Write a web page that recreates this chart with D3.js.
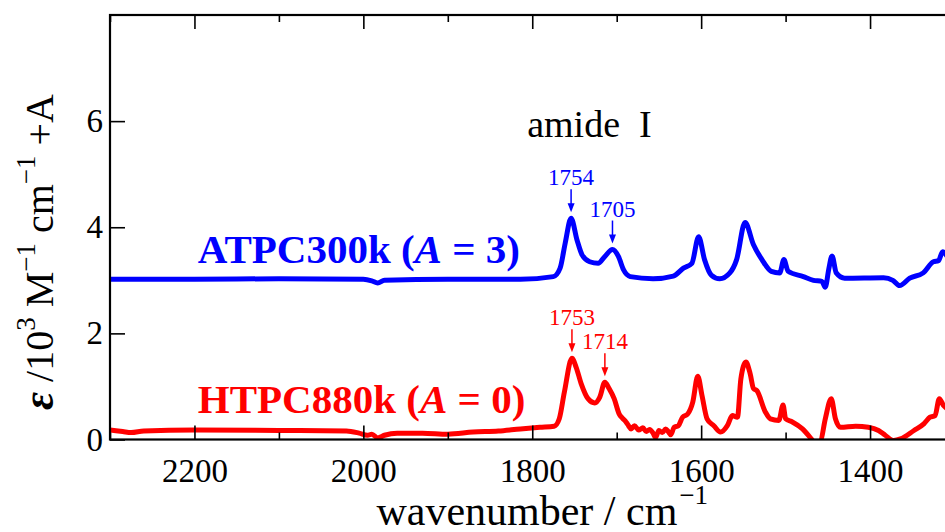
<!DOCTYPE html>
<html>
<head>
<meta charset="utf-8">
<script src="https://cdn.jsdelivr.net/npm/d3@7"></script>
<style>
  body { margin: 0; background: #fff; }
  svg { display: block; }
  text { font-family: "Liberation Serif", "Times New Roman", serif; }
</style>
</head>
<body>
<div id="chart"></div>
<script>
//Spectra (wavenumber in cm-1, epsilon in 10^3 M-1 cm-1)
var blueWn = [2300,2200,2100,2000,1990,1983,1975,1900,1814,1775,
              1767,1761,1754,1747,1741,1732,1722,1714,1705,1698,
              1692,1684,1657,1633,1621,1611,1603,1596,1588,1578,
              1566,1558,1548,1538,1528,1517,1507,1502,1497,1479,
              1467,1457,1453,1449,1445,1440,1430,1384,1373,1365,
              1353,1337,1325,1319,1314,1305,1300];
var blueEps = [0.02,0.02,0.03,0.02,-0.01,-0.05,0.00,0.02,0.02,0.07,
               0.23,0.70,1.17,0.76,0.48,0.35,0.32,0.45,0.58,0.45,
               0.20,0.07,0.03,0.08,0.23,0.32,0.82,0.39,0.10,0.03,
               0.14,0.39,1.09,0.67,0.39,0.17,0.14,0.39,0.17,0.07,
               0.00,-0.02,-0.13,0.20,0.46,0.14,0.04,0.05,0.00,-0.10,
               0.04,0.14,0.35,0.37,0.54,0.38,0.36];

var redWn = [2300,2285,2275,2260,2200,2100,2020,2005,1995,1990,
             1983,1975,1960,1930,1900,1870,1840,1814,1791,1774,
             1768,1762,1753,1748,1742,1734,1726,1720,1714,1709,
             1703,1697,1693,1689,1686,1683,1679,1674,1669,1665,
             1661,1657,1654,1650,1646,1642,1639,1636,1632,1627,
             1622,1616,1610,1604,1599,1593,1585,1577,1569,1563,
             1557,1553,1547,1542,1538,1534,1524,1518,1508,1503,
             1500,1492,1480,1469,1465,1459,1453,1446,1441,1435,
             1417,1402,1390,1382,1372,1364,1348,1336,1329,1323,
             1318,1313,1305,1300];
var redEps = [0.18,0.15,0.13,0.16,0.18,0.17,0.16,0.12,0.08,0.10,
              0.03,0.08,0.12,0.12,0.10,0.14,0.16,0.20,0.23,0.25,
              0.39,0.89,1.53,1.36,1.05,0.77,0.69,0.80,1.08,0.96,
              0.77,0.48,0.40,0.33,0.26,0.20,0.26,0.18,0.22,0.15,
              0.19,0.12,0.04,0.17,0.13,0.20,0.15,0.09,0.23,0.26,
              0.42,0.48,0.70,1.19,0.83,0.39,0.26,0.14,0.26,0.45,
              0.42,1.14,1.46,1.24,0.96,0.92,0.52,0.39,0.36,0.65,
              0.39,0.33,0.20,0.00,-0.08,-0.05,0.39,0.77,0.39,0.23,
              0.25,0.23,0.17,0.08,-0.02,0.01,0.17,0.30,0.42,0.45,
              0.77,0.64,0.55,0.50];

//Series names, offsets A and colours
var seriesName = ["ATPC300k", "HTPC880k"];
var seriesOffset = [3, 0];
var seriesColor = ["#0000ff", "#ff0000"];

//Peak annotations
var peakWn = [1754, 1705, 1753, 1714];
var peakSeries = [0, 0, 1, 1];

//Axis ticks
var xMajorTicks = [2200, 2000, 1800, 1600, 1400];
var xMinorTicks = [2300, 2100, 1900, 1700, 1500, 1300];
var yTicks = [0, 2, 4, 6];

//Canvas
var width = 945,
    height = 532;
var plot = { left: 110, top: 15, right: 954.5, bottom: 439.5 };

var svg = d3.select("#chart").append("svg")
            .attr("width", width)
            .attr("height", height);

var x = d3.scaleLinear().domain([2300, 1300]).range([plot.left, plot.right]);
var y = d3.scaleLinear().domain([0, 8]).range([plot.bottom, plot.top]);

//Clip the spectra to the frame
svg.append("clipPath").attr("id", "clip")
   .append("rect")
   .attr("x", plot.left).attr("y", plot.top)
   .attr("width", plot.right - plot.left).attr("height", plot.bottom - plot.top);

var series = [
  { wn: blueWn, eps: blueEps },
  { wn: redWn, eps: redEps }
];

var line = d3.line()
             .x(function(d) { return x(d[0]); })
             .y(function(d) { return y(d[1]); })
             .curve(d3.curveMonotoneX);

series.forEach(function(s, i) {
  var pts = s.wn.map(function(w, j) { return [w, s.eps[j] + seriesOffset[i]]; });
  pts.sort(function(a, b) { return x(a[0]) - x(b[0]); });
  s.pts = pts;
  svg.append("path")
     .attr("clip-path", "url(#clip)")
     .attr("d", line(pts))
     .attr("fill", "none")
     .attr("stroke", seriesColor[i])
     .attr("stroke-width", 5)
     .attr("stroke-linejoin", "round")
     .attr("stroke-linecap", "round");
});

//Axes: ticks point inward, mirrored on top
function styleAxis(g) {
  g.select(".domain").remove();
  g.selectAll(".tick line").attr("stroke", "#000").attr("stroke-width", 1.6);
  g.selectAll(".tick text").attr("fill", "#000").style("font-size", "33px")
   .style("font-family", "'Liberation Serif', serif");
}

svg.append("g").attr("transform", "translate(0," + plot.bottom + ")")
   .call(d3.axisBottom(x).tickValues(xMajorTicks).tickSizeInner(-14).tickSizeOuter(0).tickPadding(12).tickFormat(d3.format("d")))
   .call(styleAxis)
   .selectAll(".tick text").attr("dy", "0.85em").attr("y", 14);

svg.append("g").attr("transform", "translate(0," + plot.bottom + ")")
   .call(d3.axisBottom(x).tickValues(xMinorTicks).tickSizeInner(-7).tickSizeOuter(0).tickFormat(""))
   .call(styleAxis);

svg.append("g").attr("transform", "translate(0," + plot.top + ")")
   .call(d3.axisTop(x).tickValues(xMajorTicks).tickSizeInner(-14).tickSizeOuter(0).tickFormat(""))
   .call(styleAxis);

svg.append("g").attr("transform", "translate(0," + plot.top + ")")
   .call(d3.axisTop(x).tickValues(xMinorTicks).tickSizeInner(-7).tickSizeOuter(0).tickFormat(""))
   .call(styleAxis);

svg.append("g").attr("transform", "translate(" + plot.left + ",0)")
   .call(d3.axisLeft(y).tickValues(yTicks).tickSizeInner(-15).tickSizeOuter(0).tickPadding(7).tickFormat(d3.format("d")))
   .call(styleAxis);

//Frame
svg.append("rect")
   .attr("x", plot.left).attr("y", plot.top)
   .attr("width", plot.right - plot.left).attr("height", plot.bottom - plot.top)
   .attr("fill", "none").attr("stroke", "#000").attr("stroke-width", 2.2);

//Peak arrows and labels (tip sits just above the nearest data point)
var arrowLen = 23, gap = 6;
peakWn.forEach(function(w, k) {
  var si = peakSeries[k];
  var s = series[si];
  var j = d3.minIndex(s.wn, function(v) { return Math.abs(v - w); });
  var val = s.eps[j] + seriesOffset[si];
  var px = x(w), tip = y(val) - gap;
  var col = seriesColor[si];
  svg.append("line")
     .attr("x1", px).attr("x2", px)
     .attr("y1", tip - arrowLen).attr("y2", tip - 8)
     .attr("stroke", col).attr("stroke-width", 1.5);
  svg.append("path")
     .attr("d", "M" + (px - 3.5) + "," + (tip - 9) + "L" + (px + 3.5) + "," + (tip - 9) + "L" + px + "," + tip + "Z")
     .attr("fill", col);
  svg.append("text")
     .attr("x", px).attr("y", tip - arrowLen - 4)
     .attr("text-anchor", "middle")
     .attr("fill", col)
     .style("font-size", "23px")
     .text(String(w));
});

//Series labels
var labelWn = 2196;
var labelVal = [3.33, 0.5];
seriesName.forEach(function(name, i) {
  var t = svg.append("text")
             .attr("x", x(labelWn)).attr("y", y(labelVal[i]))
             .attr("fill", seriesColor[i])
             .style("font-size", "41px").style("font-weight", "bold");
  t.append("tspan").text(name + " (");
  t.append("tspan").style("font-style", "italic").text("A");
  t.append("tspan").text(" = " + seriesOffset[i] + ")");
});

//amide I
var amide = svg.append("text")
               .attr("x", x(1806)).attr("y", y(5.71))
               .style("font-size", "38px");
amide.append("tspan").text("amide");
amide.append("tspan").attr("dx", 19).text("I");

//x axis title
var xt = svg.append("text")
            .attr("x", (plot.left + plot.right) / 2 + 10).attr("y", 525)
            .attr("text-anchor", "middle")
            .style("font-size", "42px");
xt.append("tspan").text("wavenumber / cm");
xt.append("tspan").attr("dx", 2).attr("dy", -21).style("font-size", "27px").text("\u22121");

//y axis title
var yt = svg.append("text")
            .attr("transform", "translate(53,252) rotate(-90)")
            .attr("text-anchor", "middle")
            .style("font-size", "40px");
yt.append("tspan").style("font-style", "italic").style("font-weight", "bold").style("font-size", "44px").text("\u03b5");
yt.append("tspan").text(" /10");
yt.append("tspan").attr("dy", -18).style("font-size", "27px").text("3");
yt.append("tspan").attr("dy", 18).text(" M");
yt.append("tspan").attr("dy", -18).style("font-size", "27px").text("\u22121");
yt.append("tspan").attr("dy", 18).text(" cm");
yt.append("tspan").attr("dy", -18).style("font-size", "27px").text("\u22121");
yt.append("tspan").attr("dy", 18).text(" +A");
</script>
</body>
</html>
